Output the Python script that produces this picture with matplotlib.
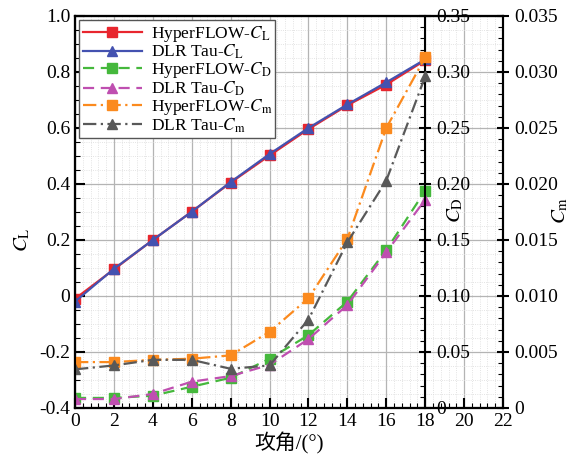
import numpy as np
import matplotlib
matplotlib.use('Agg')
import matplotlib.pyplot as plt
from matplotlib.ticker import MultipleLocator, FuncFormatter

plt.rcParams['font.family'] = ['Liberation Serif', 'Noto Sans CJK SC']
plt.rcParams['mathtext.fontset'] = 'stix'
plt.rcParams['axes.unicode_minus'] = True

# 攻角
alpha = [0, 2, 4, 6, 8, 10, 12, 14, 16, 18]
# 升力系数
cl_hyper = [-0.01, 0.095, 0.2, 0.301, 0.405, 0.502, 0.596, 0.681, 0.755, 0.842]
cl_dlr = [-0.02, 0.097, 0.2, 0.301, 0.407, 0.507, 0.6, 0.684, 0.763, 0.845]
# 阻力系数
cd_hyper = [0.009, 0.009, 0.011, 0.019, 0.027, 0.044, 0.065, 0.095, 0.141, 0.194]
cd_dlr = [0.008, 0.008, 0.0125, 0.0235, 0.0285, 0.0385, 0.0615, 0.092, 0.139, 0.186]
# 力矩系数
cm_hyper = [0.0041, 0.0041, 0.0043, 0.0044, 0.0047, 0.0068, 0.0098, 0.0151, 0.0250, 0.0313]
cm_dlr = [0.00345, 0.0038, 0.0043, 0.0043, 0.0035, 0.0038, 0.0079, 0.0148, 0.0203, 0.0296]


def fmt(v, pos, nd):
    if abs(v) < 1e-12:
        return '0'
    return ('%.' + str(nd) + 'f') % v


fig = plt.figure(figsize=(5.87, 4.58), dpi=100)
ax = fig.add_axes([75 / 587, 1 - 408 / 458, (503 - 75) / 587, (408 - 16) / 458])
ax2 = ax.twinx()
ax3 = ax.twinx()
ax2.spines['right'].set_position(('axes', 18 / 22))
ax.set_zorder(1)
ax2.set_zorder(2)
ax3.set_zorder(3)
for a in (ax2, ax3):
    a.patch.set_visible(False)

ax.set_xlim(0, 22)
ax.set_ylim(-0.4, 1.0)
ax2.set_ylim(0, 0.35)
ax3.set_ylim(0, 0.035)

ax.xaxis.set_major_locator(MultipleLocator(2))
ax.xaxis.set_minor_locator(MultipleLocator(0.4))
ax.yaxis.set_major_locator(MultipleLocator(0.2))
ax.yaxis.set_minor_locator(MultipleLocator(0.05))
ax.yaxis.set_major_formatter(FuncFormatter(lambda v, p: fmt(v, p, 1)))
ax2.yaxis.set_major_locator(MultipleLocator(0.05))
ax2.yaxis.set_minor_locator(MultipleLocator(0.01))
ax2.yaxis.set_major_formatter(FuncFormatter(lambda v, p: fmt(v, p, 2)))
ax3.yaxis.set_major_locator(MultipleLocator(0.005))
ax3.yaxis.set_minor_locator(MultipleLocator(0.001))
ax3.yaxis.set_major_formatter(FuncFormatter(lambda v, p: fmt(v, p, 3)))

ax.grid(True, which='major', color='#b4b4b4', lw=0.9)
ax.grid(True, which='minor', color='#dadada', lw=0.6, ls=':')
ax.set_axisbelow(True)

ax.tick_params(which='major', direction='in', length=7, width=1.5, labelsize=14)
ax.tick_params(which='minor', direction='in', length=3.5, width=0.8)
ax.tick_params(axis='y', which='both', right=False)
for a in (ax2, ax3):
    a.tick_params(which='major', direction='inout', length=9, width=1.5, labelsize=14)
    a.tick_params(which='minor', direction='in', length=3.5, width=0.8)
for a in (ax, ax2, ax3):
    for s in a.spines.values():
        s.set_linewidth(1.5)

ms = 7.5
lines = []
lines += ax.plot(alpha, cl_hyper, color='#e8262e', marker='s', ms=ms, lw=1.6,
                 label=r'HyperFLOW-$C_{\rm L}$')
lines += ax.plot(alpha, cl_dlr, color='#4452b0', marker='^', ms=ms, lw=1.6,
                 label=r'DLR Tau-$C_{\rm L}$')
lines += ax2.plot(alpha, cd_hyper, color='#45b83c', marker='s', ms=ms, lw=1.6, ls=(0, (5, 3)),
                  label=r'HyperFLOW-$C_{\rm D}$')
lines += ax2.plot(alpha, cd_dlr, color='#bf4fb0', marker='^', ms=ms, lw=1.6, ls=(0, (5, 3)),
                  label=r'DLR Tau-$C_{\rm D}$')
lines += ax3.plot(alpha, cm_hyper, color='#fb8a1e', marker='s', ms=ms, lw=1.6, ls=(0, (6, 2, 1, 2)),
                  label=r'HyperFLOW-$C_{\rm m}$')
lines += ax3.plot(alpha, cm_dlr, color='#595959', marker='^', ms=ms, lw=1.6, ls=(0, (6, 2, 1, 2)),
                  label=r'DLR Tau-$C_{\rm m}$')

leg = ax3.legend(handles=lines, loc='upper left', fontsize=12.5, frameon=True, fancybox=False,
                 edgecolor='#555555', framealpha=1, borderpad=0.2, labelspacing=-0.05,
                 handlelength=3.4, handletextpad=0.5, borderaxespad=0.25)
leg.get_frame().set_linewidth(1.0)

ax.set_xlabel('攻角/(°)', fontsize=15, labelpad=2)
fig.text(22 / 587, 1 - 240 / 458, r'$C_{\rm L}$', fontsize=15, rotation=90, ha='center', va='center')
fig.text(455 / 587, 1 - 210 / 458, r'$C_{\rm D}$', fontsize=15, rotation=90, ha='center', va='center')
fig.text(560 / 587, 1 - 210 / 458, r'$C_{\rm m}$', fontsize=15, rotation=90, ha='center', va='center')

fig.savefig('out.png', dpi=100)
